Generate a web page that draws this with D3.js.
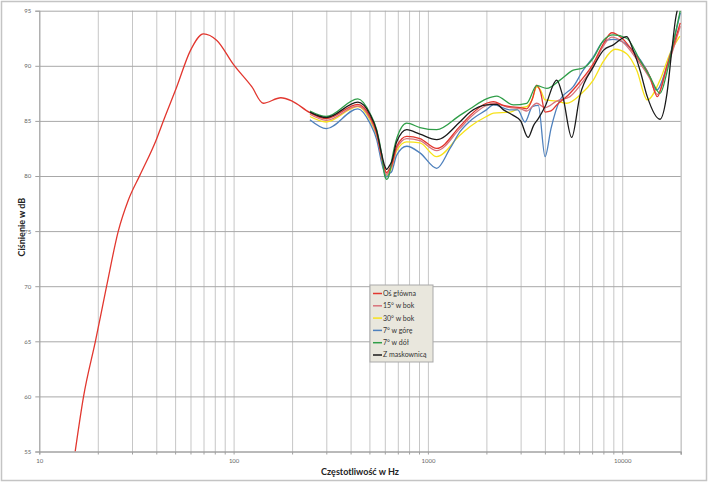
<!DOCTYPE html>
<html><head><meta charset="utf-8">
<script src="https://cdn.jsdelivr.net/npm/d3@7"></script>
<style>
html,body{margin:0;padding:0;background:#fff;}
svg{display:block;}
text{font-family:Lato,"Open Sans",sans-serif;}
</style></head>
<body>
<svg id="chart" width="708" height="483"></svg>
<script>
// ---------- DATA ----------
const seriesNames = ["Oś główna","15° w bok","30° w bok","7° w górę","7° w dół","Z maskownicą"];
const seriesColors = ["#e2372f","#d9727a","#f7e21a","#4f81bd","#2f9e48","#1a1a1a"];

const osGlownaHz = [15.3,16.9,19.5,22.2,25.5,28.7,33,40,43.5,51,60,70,82,100,124,142,175,200,247,300,436,503,545,578,600,614,632,651,691,778,910,1110,1460,1650,2000,2174,2450,2650,3000,3225,3450,3630,3800,4010,4300,4600,5280,6060,7100,8000,8830,9980,11880,13900,15150,16930,18680,19900];
const osGlownaDb = [55,60,65.1,70,75,77.8,80.1,83.3,85,88.1,91.4,92.9,92.3,90.1,88.1,86.6,87.1,86.8,85.75,85.2,86.5,85.4,83.9,81.75,80.6,80.3,80.6,81.0,82.7,83.6,83.4,82.5,84.5,85.5,86.6,86.75,86.4,86.3,86.2,86.1,87.0,88.25,87.6,85.8,85.9,86.45,87.35,88.55,90.2,92.0,93.0,92.5,90.8,89.0,87.2,89.9,92.3,93.9];

const bok15Hz = [247,300,436,503,545,578,600,614,632,651,691,778,910,1110,1460,1650,2000,2174,2650,3000,3225,3630,4010,4600,5385,6060,7100,8000,8830,9980,11880,13900,15150,16930,18680,19900];
const bok15Db = [85.6,85.05,86.35,85.25,83.75,81.6,80.45,80.15,80.45,80.85,82.5,83.4,83.2,82.3,84.3,85.3,86.4,86.6,86.2,86.1,85.9,86.6,86.2,86.8,87.2,88.2,90.0,91.8,92.6,92.2,90.6,88.8,87.4,89.7,92.0,93.6];

const bok30Hz = [247,300,436,503,545,578,600,614,632,651,691,778,910,1110,1460,1650,2000,2174,2650,3000,3225,3450,3630,3800,4010,4600,5180,6060,7100,8000,9180,10540,11880,13460,15650,17600,19800];
const bok30Db = [85.4,84.9,86.3,85.1,83.6,81.45,80.3,80.0,80.3,80.7,82.3,83.1,83.0,81.75,83.7,84.5,85.4,85.7,85.8,86.2,86.3,87.0,88.1,87.8,86.9,86.8,86.6,87.35,88.7,90.4,91.5,91.1,89.6,86.9,88.7,91.1,92.7];

const goraHz = [247,300,436,503,545,578,600,614,632,651,691,778,910,1110,1300,1460,1650,2000,2174,2650,2900,3160,3450,3700,4010,4300,4780,5600,6300,7100,8000,9000,10000,11450,13400,15050,16930,19000,19900];
const goraDb = [85.1,84.3,86.1,84.8,83.3,81.2,80.2,79.9,80.2,80.4,81.9,82.7,82.1,80.7,82.5,84.0,85.0,86.0,86.45,86.0,86.0,84.9,86.3,86.4,81.75,84.3,86.9,88.1,89.6,90.8,92.2,92.4,92.2,91.3,89.6,87.8,89.9,93.25,94.8];

const dolHz = [247,300,436,503,545,578,600,614,632,651,691,778,910,1110,1460,1650,2000,2259,2751,3225,3630,4090,4780,5600,6300,7100,8000,9000,10540,12350,13900,15650,16930,18300,19900];
const dolDb = [85.9,85.4,87.0,85.7,84.2,82.0,80.0,79.7,80.1,81.4,83.4,84.8,84.4,84.2,85.5,86.1,87.0,87.25,86.45,86.6,88.2,87.95,88.7,89.6,89.8,90.7,92.3,92.8,92.5,90.5,89.0,87.5,89.3,92.05,95.0];

const maskHz = [247,300,436,503,545,578,600,614,632,651,691,778,910,1110,1460,1650,2000,2259,2450,2750,3000,3280,3500,3700,4010,4600,4950,5495,6060,7100,8000,9000,10540,11400,12350,13460,15650,17000,18000,18800,19900];
const maskDb = [85.8,85.3,86.7,85.6,84.1,82.0,80.9,80.6,80.9,81.3,83.1,84.2,83.8,83.3,84.9,85.8,86.45,86.5,86.0,85.5,85.0,83.5,84.6,85.2,86.3,88.7,87.2,83.5,87.3,89.9,91.4,91.9,92.65,91.4,89.6,87.2,85.15,87.5,91.4,94.2,96.0];

const yTicks = [55,60,65,70,75,80,85,90,95];
const xDecadeLabels = [10,100,1000,10000];
const xTitle = "Częstotliwość w Hz";
const yTitle = "Ciśnienie w dB";

// ---------- CHART ----------
const svg = d3.select("#chart");
const L = 39.3, R = 680.7, T = 10.7, B = 451.5;
const x = d3.scaleLog().domain([10,20000]).range([L,R]);
const y = d3.scaleLinear().domain([55,95]).range([B,T]);

// outer frame
svg.append("rect").attr("x",1.5).attr("y",1.5).attr("width",705).attr("height",479)
  .attr("fill","#fff").attr("stroke","#c4c4c4").attr("stroke-width",1.5);

// minor x values
const xMinor = [];
for (let e=1; e<=4; e++) for (let m=1; m<=9; m++) { const v=m*Math.pow(10,e); if (v<=20000) xMinor.push(v); }
xMinor.push(20000);

// vertical grid
svg.append("g").attr("transform",`translate(0,${B})`)
  .call(d3.axisBottom(x).tickValues(xMinor).tickSize(-(B-T)).tickFormat(""))
  .call(g=>g.select(".domain").remove())
  .call(g=>g.selectAll("line").attr("stroke","#c6c6c6").attr("stroke-width",1));

// horizontal grid
svg.append("g").attr("transform",`translate(${L},0)`)
  .call(d3.axisLeft(y).tickValues(yTicks).tickSize(-(R-L)).tickFormat(""))
  .call(g=>g.select(".domain").remove())
  .call(g=>g.selectAll("line").attr("stroke","#a8a8a8").attr("stroke-width",1));

// x axis with ticks
const xAxis = svg.append("g").attr("transform",`translate(0,${B})`)
  .call(d3.axisBottom(x).tickValues(xMinor).tickSize(3).tickPadding(4)
    .tickFormat(d => xDecadeLabels.includes(d) ? String(d) : ""));
xAxis.select(".domain").attr("stroke","#a0a0a0");
xAxis.selectAll("line").attr("stroke","#a0a0a0");
xAxis.selectAll("text").attr("fill","#666").style("font-size","6px").style("font-family","Lato,sans-serif");

// y axis
const yAxis = svg.append("g").attr("transform",`translate(${L},0)`)
  .call(d3.axisLeft(y).tickValues(yTicks).tickSize(4).tickPadding(4));
yAxis.select(".domain").attr("stroke","#a0a0a0");
yAxis.selectAll("line").attr("stroke","#a0a0a0");
yAxis.selectAll("text").attr("fill","#666").style("font-size","6px").style("font-family","Lato,sans-serif");

// clip
svg.append("clipPath").attr("id","clip").append("rect")
  .attr("x",L).attr("y",T).attr("width",R-L+2).attr("height",B-T);

const series = [
  {hz: osGlownaHz, db: osGlownaDb},
  {hz: bok15Hz, db: bok15Db},
  {hz: bok30Hz, db: bok30Db},
  {hz: goraHz, db: goraDb},
  {hz: dolHz, db: dolDb},
  {hz: maskHz, db: maskDb}
];
const line = d3.line().x(d=>x(d[0])).y(d=>y(d[1])).curve(d3.curveMonotoneX);
const drawOrder = [2,3,1,0,4,5];
const lines = svg.append("g").attr("clip-path","url(#clip)");
drawOrder.forEach(i=>{
  const s = series[i];
  lines.append("path").datum(s.hz.map((h,k)=>[h,s.db[k]]))
    .attr("d",line).attr("fill","none").attr("stroke",seriesColors[i])
    .attr("stroke-width",1.3).attr("stroke-linejoin","round");
});

// axis titles
svg.append("text").attr("x",360).attr("y",475).attr("text-anchor","middle")
  .style("font-size","9px").style("font-weight","bold").attr("fill","#222").text(xTitle);
svg.append("text").attr("transform",`translate(25,${(T+B)/2 - 4}) rotate(-90)`).attr("text-anchor","middle")
  .style("font-size","9px").style("font-weight","bold").attr("fill","#222").text(yTitle);

// legend
const lg = svg.append("g");
lg.append("rect").attr("x",370).attr("y",285).attr("width",63).attr("height",77)
  .attr("fill","#e9e7dd").attr("stroke","#a9a9a9").attr("stroke-width",1);
seriesNames.forEach((n,i)=>{
  const yy = 293.5 + i*12.3;
  lg.append("line").attr("x1",373).attr("x2",382).attr("y1",yy).attr("y2",yy)
    .attr("stroke",seriesColors[i]).attr("stroke-width",1.5);
  lg.append("text").attr("x",383).attr("y",yy).attr("dy","0.35em")
    .style("font-size","7px").attr("fill","#333").text(n);
});
</script>
</body></html>
